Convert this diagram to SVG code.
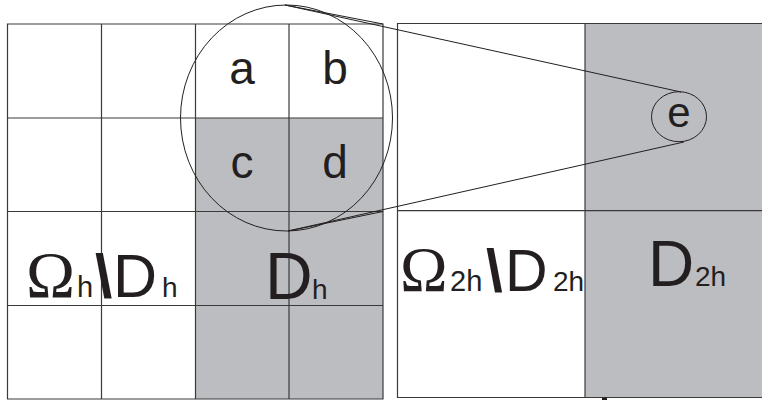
<svg xmlns="http://www.w3.org/2000/svg" width="762" height="403" viewBox="0 0 762 403">
<style>
.grid{fill:none;stroke:#3a3a3a;stroke-width:1.2}
.shade{fill:#bcbdc1;stroke:none}
.thin{fill:none;stroke:#231f20;stroke-width:1}
.lbl{font-family:"Liberation Sans",Arial,sans-serif;fill:#231f20}
.ser{font-family:"Liberation Serif","Times New Roman",serif;fill:#231f20}
</style>
<rect width="762" height="403" fill="#ffffff"/>
<g id="fine-grid">
<rect class="shade" x="195.5" y="118" width="187.5" height="281"/>
<path class="grid" d="M7.5 24H383V399H7.5Z M101.5 24V399 M195.5 24V399 M289 24V399 M7.5 118H383 M7.5 211.5H383 M7.5 305.5H383"/>
</g>
<g id="coarse-grid">
<rect class="shade" x="585" y="23.5" width="178" height="374"/>
<path class="grid" d="M763 23.5H397.5V397.5H763 M585 23.5V397.5 M397.5 210.7H763"/>
<rect x="602" y="397.5" width="5" height="2.5" fill="#231f20"/>
</g>
<g id="zoom-circle">
<ellipse class="thin" cx="286.5" cy="118" rx="106" ry="113"/>
</g>
<g id="node-e">
<ellipse class="thin" cx="679" cy="116.7" rx="27.5" ry="25"/>
<text class="lbl" x="679" y="127" font-size="42" text-anchor="middle">e</text>
</g>
<g id="connectors">
<path class="thin" d="M285 5L383 24 M285 5L681 92 M288 231L383 211.5 M288 231L684 142"/>
</g>
<g id="cell-labels">
<text class="lbl" x="242" y="84" font-size="46" text-anchor="middle">a</text>
<text class="lbl" x="335" y="84" font-size="46" text-anchor="middle">b</text>
<text class="lbl" x="242" y="178" font-size="46" text-anchor="middle">c</text>
<text class="lbl" x="335" y="178" font-size="46" text-anchor="middle">d</text>
</g>
<g id="label-omega-h">
<text class="ser" x="26" y="297" font-size="66">Ω</text>
<text class="lbl" x="77" y="297" font-size="29">h</text>
<text class="lbl" x="95" y="297" font-size="62" font-weight="bold">\</text>
<text class="lbl" x="113" y="297" font-size="61">D</text>
<text class="lbl" x="162" y="297" font-size="28">h</text>
</g>
<g id="label-D-h">
<text class="lbl" x="265" y="299" font-size="66">D</text>
<text class="lbl" x="312" y="299" font-size="28">h</text>
</g>
<g id="label-omega-2h">
<text class="ser" x="400" y="291" font-size="64">Ω</text>
<text class="lbl" x="450" y="291" font-size="29">2h</text>
<text class="lbl" x="486" y="291" font-size="60" font-weight="bold">\</text>
<text class="lbl" x="505" y="291" font-size="59">D</text>
<text class="lbl" x="553" y="291" font-size="28">2h</text>
</g>
<g id="label-D-2h">
<text class="lbl" x="648" y="286" font-size="64">D</text>
<text class="lbl" x="695" y="286" font-size="28">2h</text>
</g>
</svg>
